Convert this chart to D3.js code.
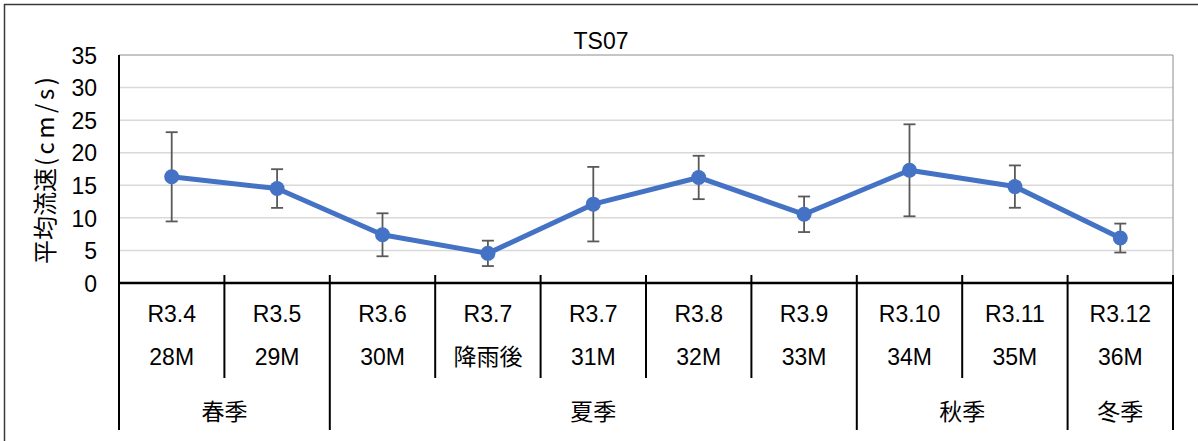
<!DOCTYPE html>
<html><head><meta charset="utf-8">
<script src="https://cdn.jsdelivr.net/npm/d3@7"></script>
<style>
html,body{margin:0;padding:0;background:#fff;}
svg{display:block;}
text{font-family:"Liberation Sans",Arial,sans-serif;fill:#000;}
.jp{font-family:"Noto Sans CJK JP","Liberation Sans",sans-serif;}
</style></head>
<body>
<svg id="c" width="1198" height="441"></svg>
<script>
const title = "TS07";
const months = ["R3.4","R3.5","R3.6","R3.7","R3.7","R3.8","R3.9","R3.10","R3.11","R3.12"];
const surveys = ["28M","29M","30M","降雨後","31M","32M","33M","34M","35M","36M"];
const values = [16.3,14.5,7.4,4.55,12.1,16.2,10.55,17.3,14.8,6.9];
const errors = [6.85,2.97,3.3,1.95,5.72,3.33,2.73,7.06,3.25,2.22];
const seasonNames = ["春季","夏季","秋季","冬季"];
const seasonSpans = [2,5,2,1];
const yTicks = [0,5,10,15,20,25,30,35];
const yTitleMain = "平均流速";
const yTitleUnit = "(cm/s)";

const svg = d3.select("#c");
const L = 119, R = 1173, T = 55, B = 283;
const FS = 23;

// outer chart border (top & left visible)
svg.append("line").attr("x1",4).attr("x2",1198).attr("y1",4.5).attr("y2",4.5).attr("stroke","#3a3a3a").attr("stroke-width",1.5);
svg.append("line").attr("x1",4.5).attr("x2",4.5).attr("y1",4).attr("y2",441).attr("stroke","#3a3a3a").attr("stroke-width",1.5);

const x = d3.scaleBand().domain(d3.range(months.length)).range([L,R]).padding(0);
const y = d3.scaleLinear().domain([0,35]).range([B,T]);

// gridlines
svg.append("g").selectAll("line").data(yTicks.filter(d=>d>0 && d<35)).join("line")
  .attr("x1",L).attr("x2",R).attr("y1",d=>y(d)).attr("y2",d=>y(d))
  .attr("stroke","#d9d9d9").attr("stroke-width",1.5);

// plot border (gray top & right)
svg.append("line").attr("x1",L).attr("x2",R).attr("y1",T).attr("y2",T).attr("stroke","#8c8c8c").attr("stroke-width",1);
svg.append("line").attr("x1",R).attr("x2",R).attr("y1",T).attr("y2",B).attr("stroke","#8c8c8c").attr("stroke-width",1);

// y axis labels
const yAxis = d3.axisLeft(y).tickValues(yTicks).tickSize(0).tickPadding(0);
const gy = svg.append("g").attr("transform",`translate(${L-22},0)`).call(yAxis);
gy.select(".domain").remove();
gy.selectAll("text").attr("font-family","Liberation Sans, Arial, sans-serif").attr("font-size",FS).attr("fill","#000").attr("dy","0.36em");

// y axis line
svg.append("line").attr("x1",L).attr("x2",L).attr("y1",T).attr("y2",430).attr("stroke","#000").attr("stroke-width",2);

// category axis
svg.append("line").attr("x1",L).attr("x2",R+1).attr("y1",B).attr("y2",B).attr("stroke","#000").attr("stroke-width",2.5);
const bounds = d3.range(months.length+1).map(i => i<months.length ? x(i) : x(months.length-1)+x.bandwidth());
const seasonBounds = [0];
seasonSpans.reduce((a,s)=>{seasonBounds.push(a+s);return a+s;},0);
svg.append("g").selectAll("line").data(d3.range(1,months.length+1)).join("line")
  .attr("x1",i=>bounds[i]).attr("x2",i=>bounds[i])
  .attr("y1",275).attr("y2",i=>seasonBounds.includes(i)?430:378)
  .attr("stroke","#000").attr("stroke-width",2);

// category labels
const cx = i => x(i)+x.bandwidth()/2;
svg.append("g").selectAll("text").data(months).join("text")
  .attr("x",(d,i)=>cx(i)).attr("y",322.3).attr("text-anchor","middle").attr("font-size",FS).text(d=>d);
svg.append("g").selectAll("text").data(surveys).join("text")
  .attr("class",d=>/[^\x00-\x7f]/.test(d)?"jp":null)
  .attr("x",(d,i)=>cx(i)).attr("y",365).attr("text-anchor","middle").attr("font-size",FS).text(d=>d);
svg.append("g").selectAll("text").data(seasonNames).join("text")
  .attr("class","jp")
  .attr("x",(d,i)=>(bounds[seasonBounds[i]]+bounds[seasonBounds[i+1]])/2)
  .attr("y",420).attr("text-anchor","middle").attr("font-size",FS).text(d=>d);

// error bars
const eg = svg.append("g").attr("stroke","#595959").attr("stroke-width",1.8).attr("fill","none");
values.forEach((v,i)=>{
  const px = cx(i), hi = y(v+errors[i]), lo = y(v-errors[i]);
  eg.append("line").attr("x1",px).attr("x2",px).attr("y1",hi).attr("y2",lo);
  eg.append("line").attr("x1",px-6).attr("x2",px+6).attr("y1",hi).attr("y2",hi);
  eg.append("line").attr("x1",px-6).attr("x2",px+6).attr("y1",lo).attr("y2",lo);
});

// line + markers
svg.append("path").datum(values)
  .attr("d",d3.line().x((d,i)=>cx(i)).y(d=>y(d)))
  .attr("fill","none").attr("stroke","#4472C4").attr("stroke-width",5).attr("stroke-linejoin","round");
svg.append("g").selectAll("circle").data(values).join("circle")
  .attr("cx",(d,i)=>cx(i)).attr("cy",d=>y(d)).attr("r",7.5).attr("fill","#4472C4");

// title
svg.append("text").attr("x",601).attr("y",48.5).attr("text-anchor","middle").attr("font-size",FS).text(title);

// y axis title
const yt = svg.append("text").attr("class","jp").attr("transform","translate(54,0) rotate(-90)")
  .attr("x",-264).attr("text-anchor","start").attr("font-size",24);
yt.append("tspan").text(yTitleMain);
yt.append("tspan").attr("dx",2).attr("letter-spacing",3.5).text(yTitleUnit);
</script>
</body></html>
